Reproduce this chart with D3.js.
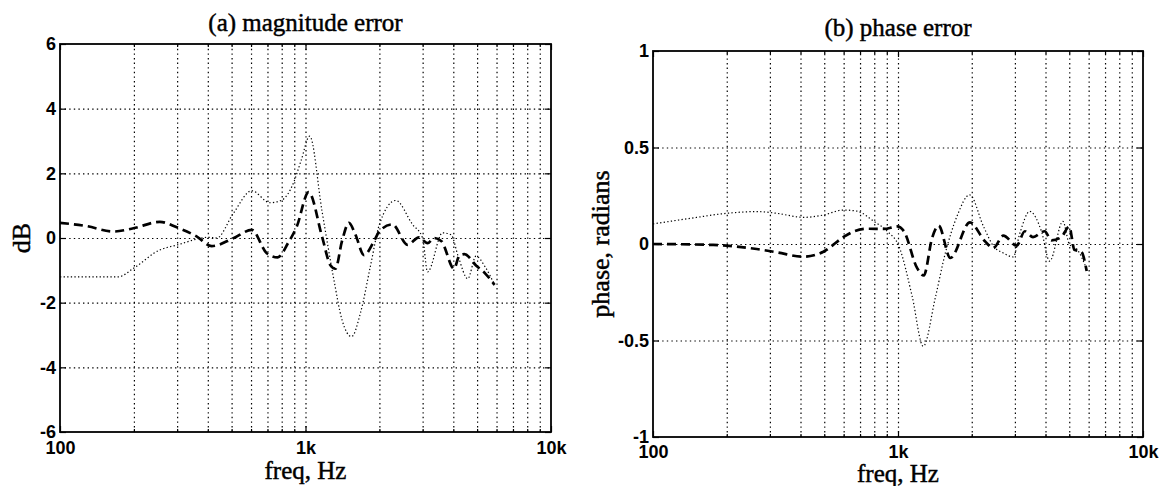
<!DOCTYPE html>
<html><head><meta charset="utf-8">
<script src="https://cdn.jsdelivr.net/npm/d3@7"></script>
<style>body{margin:0;background:#fff}</style></head>
<body>
<svg id="chart" width="1163" height="486"></svg>
<script>
// ---------- data ----------
const freqMajor = [100, 1000, 10000];
const freqMajorLabels = ["100", "1k", "10k"];
const freqMinor = [200, 300, 400, 500, 600, 700, 800, 900, 2000, 3000, 4000, 5000, 6000, 7000, 8000, 9000];
const magTicks = [-6, -4, -2, 0, 2, 4, 6];
const magTickLabels = ["-6", "-4", "-2", "0", "2", "4", "6"];
const phaseTicks = [-1, -0.5, 0, 0.5, 1];
const phaseTickLabels = ["-1", "-0.5", "0", "0.5", "1"];
const titles = ["(a) magnitude error", "(b) phase error"];
const xLabel = "freq, Hz";
const yLabels = ["dB", "phase, radians"];

// (a) magnitude error, dashed series
const magDashedF = [100, 128, 165, 199, 255, 299, 360, 415, 508, 604, 695, 770, 850, 921, 1030, 1170, 1263, 1324, 1408, 1503, 1598, 1731, 1901, 2000, 2259, 2603, 2900, 3142, 3340, 3580, 4030, 4230, 4440, 4950, 5400, 5890];
const magDashedV = [0.47, 0.37, 0.2, 0.3, 0.5, 0.33, 0.05, -0.25, -0.01, 0.25, -0.47, -0.6, -0.15, 0.35, 1.42, 0.02, -0.84, -0.95, -0.1, 0.47, 0.1, -0.53, -0.1, 0.21, 0.42, -0.21, 0.02, -0.16, 0.0, -0.1, -0.95, -0.55, -0.5, -0.85, -1.1, -1.45];
// (a) magnitude error, dotted series
const magDottedF = [100, 173, 199, 255, 299, 402, 435, 508, 604, 717, 800, 892, 960, 1040, 1167, 1303, 1408, 1540, 1677, 1842, 2000, 2330, 2728, 3000, 3142, 3617, 3915, 4200, 4580, 4950, 5400, 5890];
const magDottedV = [-1.2, -1.2, -0.94, -0.37, -0.22, 0.02, 0.0, 0.76, 1.46, 1.09, 1.17, 1.69, 2.4, 3.15, 0.84, -1.26, -2.53, -3.05, -2.3, -0.84, 0.42, 1.16, 0.42, 0.0, -1.05, 0.16, 0.1, -0.6, -1.26, -0.56, -0.9, -1.45];
// (b) phase error, dashed series
const phaseDashedF = [100, 176, 205, 265, 320, 411, 496, 598, 662, 750, 877, 991, 1057, 1196, 1274, 1378, 1465, 1635, 1967, 2264, 2450, 2690, 3050, 3295, 3556, 3970, 4230, 4640, 5000, 5250, 5600, 5890];
const phaseDashedV = [0.0, -0.005, -0.01, -0.026, -0.043, -0.066, -0.04, 0.035, 0.066, 0.079, 0.078, 0.091, 0.066, -0.124, -0.163, 0.031, 0.095, -0.072, 0.112, 0.014, -0.021, 0.043, -0.008, 0.066, 0.036, 0.066, 0.019, 0.036, 0.09, -0.03, -0.04, -0.14];
// (b) phase error, dotted series
const phaseDottedF = [100, 142, 200, 265, 320, 411, 496, 598, 681, 798, 904, 1009, 1142, 1268, 1420, 1561, 1740, 1960, 2233, 2450, 2690, 2952, 3145, 3450, 3850, 4160, 4710, 5000, 5400, 5890];
const phaseDottedV = [0.104, 0.133, 0.159, 0.168, 0.159, 0.138, 0.15, 0.176, 0.17, 0.117, 0.066, -0.012, -0.27, -0.53, -0.278, -0.046, 0.143, 0.255, 0.091, -0.01, -0.047, -0.067, 0.057, 0.169, 0.066, -0.089, 0.117, 0.0, -0.03, -0.13];

// ---------- drawing ----------
const svg = d3.select("#chart");
svg.append("rect").attr("width", 1163).attr("height", 486).attr("fill", "#fff");

const serif = "'Liberation Serif','Times New Roman',serif";
const sans = "'Liberation Sans',Arial,sans-serif";

function panel(o) {
  const x = d3.scaleLog().domain([100, 10000]).range([o.x0, o.x1]);
  const y = d3.scaleLinear().domain(o.yDomain).range([o.y1, o.y0]);
  const g = svg.append("g");
  const w = o.x1 - o.x0, h = o.y1 - o.y0;

  // grid
  const gridStyle = sel => {
    sel.select(".domain").remove();
    sel.selectAll("line").attr("stroke", "#000").attr("stroke-width", 1.2).attr("stroke-dasharray", "1.4,3.2");
  };
  g.append("g").attr("transform", `translate(0,${o.y1})`)
    .call(d3.axisBottom(x).tickValues(freqMinor.concat([1000])).tickSize(-h).tickFormat(""))
    .call(gridStyle);
  g.append("g").attr("transform", `translate(${o.x0},0)`)
    .call(d3.axisLeft(y).tickValues(o.yTicks.slice(1, -1)).tickSize(-w).tickFormat(""))
    .call(gridStyle);

  // lines
  const line = (F, V) => d3.line().x((d, i) => x(F[i])).y((d, i) => y(V[i])).curve(d3.curveMonotoneX)(F);
  g.append("path").attr("d", line(o.dotF, o.dotV)).attr("fill", "none")
    .attr("stroke", "#000").attr("stroke-width", 1.2).attr("stroke-dasharray", "1.3,2.3");
  g.append("path").attr("d", line(o.dashF, o.dashV)).attr("fill", "none")
    .attr("stroke", "#000").attr("stroke-width", 2.7).attr("stroke-dasharray", "9,5");

  // axes with inward ticks
  const tickStyle = sel => {
    sel.select(".domain").remove();
    sel.selectAll("line").attr("stroke", "#000").attr("stroke-width", 1.2);
    sel.selectAll("text").attr("fill", "#000").style("font-family", sans).style("font-weight", "bold").style("font-size", "18px");
  };
  const labelsX = d => freqMajorLabels[freqMajor.indexOf(d)];
  g.append("g").attr("transform", `translate(0,${o.y1})`)
    .call(d3.axisBottom(x).tickValues(freqMajor).tickSizeInner(-6).tickSizeOuter(0).tickPadding(o.xPad).tickFormat(labelsX))
    .call(tickStyle);
  g.append("g").attr("transform", `translate(0,${o.y1})`)
    .call(d3.axisBottom(x).tickValues(freqMinor).tickSizeInner(-3).tickSizeOuter(0).tickFormat(""))
    .call(tickStyle);
  g.append("g").attr("transform", `translate(0,${o.y0})`)
    .call(d3.axisTop(x).tickValues(freqMajor).tickSizeInner(-6).tickSizeOuter(0).tickFormat(""))
    .call(tickStyle);
  g.append("g").attr("transform", `translate(0,${o.y0})`)
    .call(d3.axisTop(x).tickValues(freqMinor).tickSizeInner(-3).tickSizeOuter(0).tickFormat(""))
    .call(tickStyle);
  g.append("g").attr("transform", `translate(${o.x0},0)`)
    .call(d3.axisLeft(y).tickValues(o.yTicks).tickSizeInner(-6).tickSizeOuter(0).tickPadding(4)
      .tickFormat(d => o.yTickLabels[o.yTicks.indexOf(d)]))
    .call(tickStyle);
  g.append("g").attr("transform", `translate(${o.x1},0)`)
    .call(d3.axisRight(y).tickValues(o.yTicks).tickSizeInner(-6).tickSizeOuter(0).tickFormat(""))
    .call(tickStyle);

  // frame
  g.append("rect").attr("x", o.x0).attr("y", o.y0).attr("width", w).attr("height", h)
    .attr("fill", "none").attr("stroke", "#000").attr("stroke-width", 1.8);

  // texts
  const heavy = sel => sel.attr("fill", "#000").attr("stroke", "#000").attr("stroke-width", 0.45);
  g.append("text").attr("x", (o.x0 + o.x1) / 2).attr("y", o.titleY).attr("text-anchor", "middle")
    .style("font-family", serif).style("font-size", "25px").call(heavy).text(o.title);
  g.append("text").attr("x", (o.x0 + o.x1) / 2).attr("y", o.xLabY).attr("text-anchor", "middle")
    .style("font-family", serif).style("font-size", "25px").call(heavy).text(xLabel);
  g.append("text").attr("transform", `translate(${o.yLabX},${(o.y0 + o.y1) / 2}) rotate(-90)`)
    .attr("text-anchor", "middle")
    .style("font-family", serif).style("font-size", "26px").call(heavy).text(o.yLabel);
}

panel({x0: 60, x1: 551, y0: 44, y1: 432, yDomain: [-6, 6], yTicks: magTicks, yTickLabels: magTickLabels,
  dashF: magDashedF, dashV: magDashedV, dotF: magDottedF, dotV: magDottedV, xPad: 9,
  title: titles[0], titleY: 31, xLabY: 479, yLabel: yLabels[0], yLabX: 30});
panel({x0: 653, x1: 1143, y0: 51, y1: 437, yDomain: [-1, 1], yTicks: phaseTicks, yTickLabels: phaseTickLabels,
  dashF: phaseDashedF, dashV: phaseDashedV, dotF: phaseDottedF, dotV: phaseDottedV, xPad: 8,
  title: titles[1], titleY: 36, xLabY: 482, yLabel: yLabels[1], yLabX: 609});
</script>
</body></html>
